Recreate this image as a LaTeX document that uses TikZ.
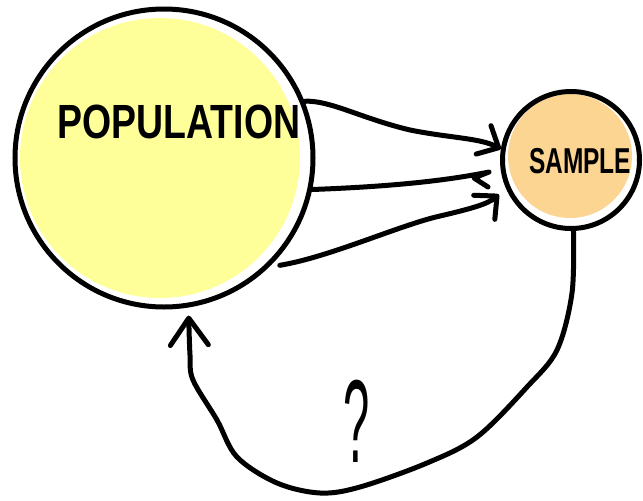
\documentclass[tikz,border=0pt]{standalone}
\usepackage{fontspec}
\setmainfont{Liberation Sans}
\usetikzlibrary{arrows.meta}
\definecolor{popfill}{HTML}{FFFF99}
\definecolor{sampfill}{HTML}{FBD591}
\tikzset{
  ink/.style={line width=5pt, line cap=round, line join=round, black},
  barb/.style={-{Straight Barb[length=17pt 0 0, width=32pt 0 0, line width=5pt, round]}},
  bigbarb/.style={-{Straight Barb[length=27pt 0 0, width=38pt 0 0, line width=5pt, round]}},
  bigcirc/.style={circle, draw, line width=5pt, minimum size=298pt, inner sep=0pt},
  smallcirc/.style={circle, draw, line width=5pt, minimum size=137pt, inner sep=0pt},
  lbl/.style={font=\bfseries, inner sep=0pt}
}
\begin{document}
\begin{tikzpicture}[x=1pt,y=-1pt]
\useasboundingbox (0,0) rectangle (643,501);
% fills
\fill[popfill] (160,158) circle (140);
\fill[sampfill] (570,156) circle (62);
% circles
\node[bigcirc] (pop) at (164,158) {};
\node[smallcirc] (samp) at (571,160) {};
% labels
\node[lbl, font=\bfseries\fontsize{48}{48}\selectfont, xscale=0.78] (poplbl) at (179,122) {POPULATION};
\node[lbl, font=\bfseries\fontsize{36}{36}\selectfont, xscale=0.68] (samplbl) at (580,161) {SAMPLE};
% connectors
\draw[ink, barb] (pop.22.6) .. controls (330,100) and (360,118) .. (410,130)
   .. controls (450,138) and (480,138) .. (samp.171.6);
\draw[ink] (pop.-12) .. controls (380,187) and (440,182) .. (489,172)
   -- (474,178) -- (488,187);
\draw[ink, barb] ([shift={(5,4)}]pop.-43) .. controls (330,257) and (400,225) .. (440,216)
   .. controls (470,209) and (488,204) .. ([shift={(-10,0)}]samp.209);
\draw[ink, bigbarb] plot[smooth, tension=0.55] coordinates {(samp.-88) (572,293) (557,350) (527,387) (477,437) (427,463) (360,487) (320,493) (277,483) (237,457) (217,420) (193,380) (190,355) ([shift={(1,8)}]pop.-81)};
% question mark
\node[inner sep=0pt, font=\fontsize{118}{118}\selectfont, xscale=0.4] (q) at (357,421) {?};
\end{tikzpicture}
\end{document}
